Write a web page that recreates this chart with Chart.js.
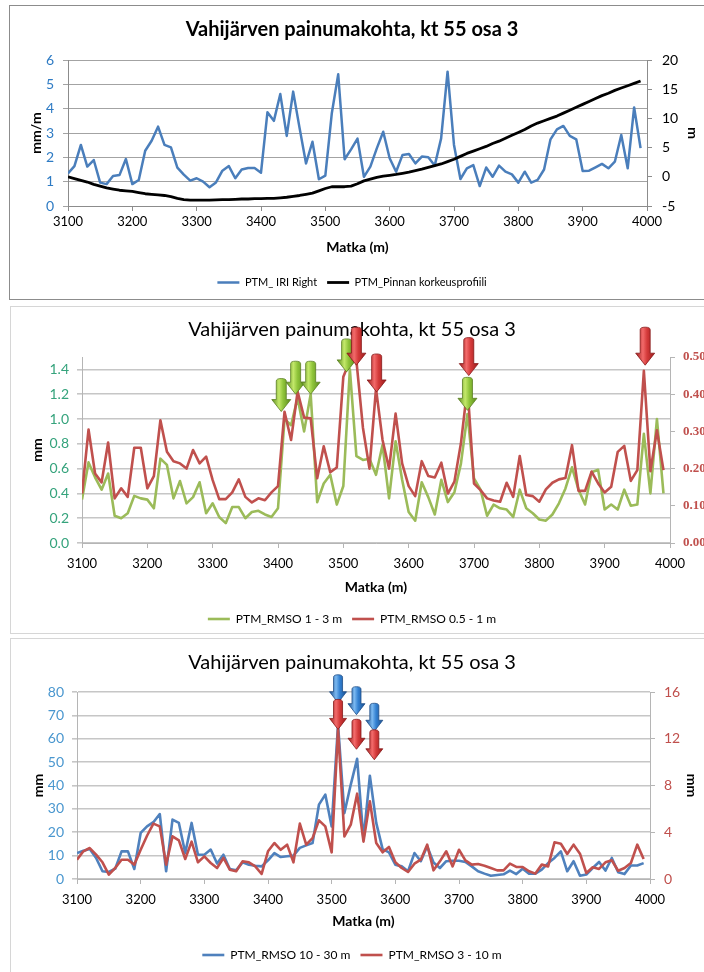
<!DOCTYPE html>
<html>
<head>
<meta charset="utf-8">
<script src="https://cdn.jsdelivr.net/npm/chart.js@4.4.1/dist/chart.umd.min.js"></script>
<style>
  html, body { margin: 0; padding: 0; background: #fff; width: 704px; height: 972px; overflow: hidden; }
  .frame { position: absolute; box-sizing: border-box; }
  #f1 { left: 9px; top: 5px; width: 740px; height: 295px; border: 1px solid #8c8c8c; }
  #f2 { left: 10px; top: 306px; width: 740px; height: 328px; border: 1px solid #d6d6d6; }
  #f3 { left: 10px; top: 638px; width: 740px; height: 345px; border: 1px solid #d6d6d6; }
  canvas { position: absolute; left: 0; }
  #c1 { top: 0; }
  #c2 { top: 306px; filter: blur(0.5px); }
  #c3 { top: 638px; filter: blur(0.5px); }
</style>
</head>
<body>
<div class="frame" id="f1"></div>
<div class="frame" id="f2"></div>
<div class="frame" id="f3"></div>
<canvas id="c1" width="704" height="298"></canvas>
<canvas id="c2" width="704" height="329"></canvas>
<canvas id="c3" width="704" height="333"></canvas>
<script>
// Measuring stations along the road (m)
const stations = [
  3100, 3110, 3120, 3130, 3140, 3150, 3160, 3170, 3180, 3190,
  3200, 3210, 3220, 3230, 3240, 3250, 3260, 3270, 3280, 3290,
  3300, 3310, 3320, 3330, 3340, 3350, 3360, 3370, 3380, 3390,
  3400, 3410, 3420, 3430, 3440, 3450, 3460, 3470, 3480, 3490,
  3500, 3510, 3520, 3530, 3540, 3550, 3560, 3570, 3580, 3590,
  3600, 3610, 3620, 3630, 3640, 3650, 3660, 3670, 3680, 3690,
  3700, 3710, 3720, 3730, 3740, 3750, 3760, 3770, 3780, 3790,
  3800, 3810, 3820, 3830, 3840, 3850, 3860, 3870, 3880, 3890,
  3900, 3910, 3920, 3930, 3940, 3950, 3960, 3970, 3980, 3990
];

// IRI, right wheel path (mm/m)
const iriRight = [
  1.34, 1.64, 2.51, 1.62, 1.89, 0.96, 0.90, 1.23, 1.27, 1.93,
  0.90, 1.07, 2.27, 2.68, 3.26, 2.51, 2.41, 1.58, 1.29, 1.04,
  1.14, 1.00, 0.77, 0.97, 1.45, 1.64, 1.14, 1.50, 1.56, 1.56,
  1.37, 3.85, 3.50, 4.60, 2.88, 4.70, 3.20, 1.75, 2.64, 1.10,
  1.25, 3.80, 5.41, 1.92, 2.33, 2.77, 1.20, 1.62, 2.37, 3.05,
  1.96, 1.41, 2.10, 2.14, 1.75, 2.03, 2.00, 1.66, 2.78, 5.52,
  2.51, 1.11, 1.55, 1.68, 0.82, 1.58, 1.20, 1.66, 1.41, 1.30,
  0.96, 1.41, 0.96, 1.07, 1.50, 2.74, 3.15, 3.29, 2.88, 2.74,
  1.44, 1.45, 1.59, 1.73, 1.55, 1.82, 2.92, 1.55, 4.05, 2.38
];

// Surface elevation profile (m)
const elevation = [
  0.0, -0.3, -0.6, -0.9, -1.3, -1.6, -1.9, -2.1, -2.3, -2.4,
  -2.5, -2.7, -2.9, -3.0, -3.1, -3.2, -3.4, -3.7, -3.9, -4.0,
  -4.0, -4.0, -4.0, -3.95, -3.9, -3.9, -3.85, -3.8, -3.8, -3.75,
  -3.75, -3.7, -3.7, -3.6, -3.5, -3.35, -3.2, -3.0, -2.8, -2.4,
  -2.0, -1.7, -1.7, -1.7, -1.6, -1.2, -0.7, -0.4, -0.1, 0.1,
  0.25, 0.4, 0.6, 0.8, 1.05, 1.3, 1.6, 1.9, 2.2, 2.6,
  3.0, 3.5, 4.0, 4.4, 4.8, 5.2, 5.7, 6.1, 6.6, 7.1,
  7.6, 8.1, 8.7, 9.2, 9.6, 10.0, 10.4, 10.9, 11.4, 11.9,
  12.4, 12.9, 13.4, 13.9, 14.3, 14.8, 15.2, 15.6, 16.0, 16.4
];

// RMSO, wavelength band 1 - 3 m (mm)
const rmso1to3 = [
  0.35, 0.65, 0.53, 0.43, 0.56, 0.22, 0.20, 0.24, 0.38, 0.36,
  0.35, 0.28, 0.68, 0.63, 0.36, 0.50, 0.32, 0.37, 0.49, 0.24,
  0.32, 0.21, 0.16, 0.29, 0.29, 0.20, 0.25, 0.26, 0.23, 0.21,
  0.28, 1.00, 0.95, 1.17, 0.90, 1.20, 0.33, 0.48, 0.55, 0.31,
  0.46, 1.40, 0.70, 0.67, 0.68, 0.55, 0.79, 0.36, 0.82, 0.51,
  0.25, 0.18, 0.49, 0.37, 0.23, 0.51, 0.33, 0.41, 0.64, 1.04,
  0.52, 0.43, 0.22, 0.31, 0.28, 0.27, 0.21, 0.43, 0.28, 0.24,
  0.19, 0.18, 0.23, 0.32, 0.44, 0.61, 0.43, 0.31, 0.57, 0.59,
  0.27, 0.31, 0.27, 0.43, 0.30, 0.31, 0.88, 0.40, 1.00, 0.40
];

// RMSO, wavelength band 0.5 - 1 m (mm)
const rmso05to1 = [
  0.133, 0.305, 0.187, 0.163, 0.270, 0.120, 0.147, 0.124, 0.256, 0.256,
  0.147, 0.180, 0.330, 0.245, 0.220, 0.214, 0.200, 0.250, 0.214, 0.232,
  0.169, 0.118, 0.118, 0.136, 0.171, 0.124, 0.109, 0.120, 0.115, 0.136,
  0.153, 0.353, 0.277, 0.407, 0.337, 0.335, 0.174, 0.260, 0.190, 0.203,
  0.447, 0.490, 0.490, 0.310, 0.200, 0.415, 0.277, 0.200, 0.348, 0.214,
  0.153, 0.126, 0.220, 0.180, 0.176, 0.216, 0.133, 0.165, 0.268, 0.420,
  0.160, 0.142, 0.120, 0.114, 0.111, 0.162, 0.124, 0.234, 0.129, 0.126,
  0.111, 0.144, 0.162, 0.171, 0.175, 0.263, 0.140, 0.140, 0.192, 0.160,
  0.136, 0.151, 0.245, 0.261, 0.167, 0.196, 0.463, 0.193, 0.303, 0.196
];

// RMSO, wavelength band 10 - 30 m (mm)
const rmso10to30 = [
  11.1, 12.1, 12.8, 9.0, 3.3, 3.0, 4.4, 11.8, 11.8, 4.3,
  19.7, 22.5, 24.3, 27.8, 3.3, 25.4, 24.0, 11.1, 24.0, 10.4,
  10.4, 12.6, 6.6, 10.4, 4.3, 3.7, 7.1, 6.1, 5.7, 5.4,
  8.0, 11.1, 9.4, 9.7, 10.0, 13.3, 14.4, 15.4, 31.8, 36.1,
  22.5, 66.0, 28.2, 40.4, 51.4, 17.0, 44.2, 24.0, 12.8, 11.4,
  6.1, 5.4, 3.3, 11.1, 7.6, 14.0, 7.1, 4.7, 7.6, 7.8,
  7.8, 7.3, 5.4, 3.3, 2.3, 1.4, 1.7, 2.0, 3.6, 2.1,
  4.4, 2.3, 2.3, 4.0, 6.8, 9.0, 11.8, 3.3, 7.6, 1.4,
  1.9, 4.7, 7.3, 3.6, 9.0, 2.9, 2.1, 5.8, 5.8, 6.8
];

// RMSO, wavelength band 3 - 10 m (mm)
const rmso3to10 = [
  1.65, 2.37, 2.65, 2.08, 1.43, 0.37, 0.94, 1.65, 1.65, 1.23,
  2.50, 3.70, 4.74, 4.50, 1.23, 3.65, 3.30, 1.71, 3.20, 1.43,
  1.94, 1.37, 0.94, 1.80, 0.80, 0.66, 1.51, 1.43, 1.08, 0.43,
  2.37, 3.08, 2.50, 2.94, 1.43, 4.74, 2.94, 3.50, 5.02, 4.50,
  2.28, 12.80, 3.65, 4.65, 7.30, 3.20, 6.65, 3.08, 2.28, 2.74,
  1.43, 0.94, 0.60, 1.31, 1.65, 2.94, 0.74, 1.51, 2.37, 1.08,
  2.50, 1.60, 1.23, 1.28, 1.14, 0.94, 0.74, 0.74, 1.31, 1.03,
  1.03, 0.66, 0.46, 1.23, 1.08, 3.14, 3.02, 2.14, 2.94, 2.17,
  0.51, 1.00, 0.86, 1.43, 1.60, 0.71, 0.94, 1.37, 2.94, 1.71
];

// Peak markers: station and the value the arrow tip points at
const greenArrowAt = [3405, 3427, 3450, 3505, 3690];
const greenArrowTip = [1.06, 1.20, 1.20, 1.38, 1.07];
const redArrowAt = [3520, 3551, 3692, 3962];
const redArrowTip = [0.478, 0.406, 0.450, 0.478];
const blueArrowAt = [3510, 3539, 3567];
const blueArrowTip = [75.4, 70.3, 63.2];
const redArrowAt3 = [3510, 3539, 3567];
const redArrowTip3 = [12.8, 11.1, 10.2];

const xTicks = ['3100', '3200', '3300', '3400', '3500', '3600', '3700', '3800', '3900', '4000'];
const chartTitle = 'Vahijärven painumakohta, kt 55 osa 3';

Chart.defaults.font.family = 'Lato, "Open Sans", sans-serif';
Chart.defaults.color = '#000';

const pairs = (xs, ys) => xs.map((x, i) => ({ x: x, y: ys[i] }));

// Shaded block arrow pointing down at (x, tipY)
function drawArrow(ctx, x, tipY, len, shaftW, headW, headH, pal) {
  const top = tipY - len, neck = tipY - headH;
  const g = ctx.createLinearGradient(x - headW / 2, 0, x + headW / 2, 0);
  g.addColorStop(0, pal.dark);
  g.addColorStop(0.38, pal.light);
  g.addColorStop(0.6, pal.mid);
  g.addColorStop(1, pal.dark);
  ctx.save();
  ctx.beginPath();
  ctx.moveTo(x - shaftW / 2, top + 2.5);
  ctx.quadraticCurveTo(x - shaftW / 2, top, x, top);
  ctx.quadraticCurveTo(x + shaftW / 2, top, x + shaftW / 2, top + 2.5);
  ctx.lineTo(x + shaftW / 2, neck);
  ctx.lineTo(x + headW / 2, neck);
  ctx.lineTo(x, tipY);
  ctx.lineTo(x - headW / 2, neck);
  ctx.lineTo(x - shaftW / 2, neck);
  ctx.closePath();
  ctx.fillStyle = g;
  ctx.fill();
  ctx.lineWidth = 0.8;
  ctx.strokeStyle = pal.edge;
  ctx.stroke();
  ctx.restore();
}

const peakArrows = {
  id: 'peakArrows',
  afterDatasetsDraw(chart, args, opts) {
    const ctx = chart.ctx;
    (opts.sets || []).forEach(set => {
      const ys = chart.scales[set.axis];
      set.at.forEach((xv, i) => {
        const px = chart.scales.x.getPixelForValue(xv);
        const py = ys.getPixelForValue(set.tip[i]);
        drawArrow(ctx, px, py, set.len, set.shaftW, set.headW, set.headH, set.palette);
      });
    });
  }
};

const GREEN = { light: '#c3e86a', mid: '#8fc43a', dark: '#5a8a1c', edge: '#5b7f22' };
const RED = { light: '#f26a6a', mid: '#d43a3a', dark: '#9a1c1c', edge: '#861818' };
const BLUE = { light: '#7ab8f0', mid: '#3381d2', dark: '#1b4f8f', edge: '#1e4e88' };

function xScale(opts) {
  return {
    type: 'linear', min: 3100, max: 4000,
    afterFit: s => { s.height = opts.height; },
    ticks: {
      stepSize: 100, color: '#000', padding: opts.tickPad,
      font: { size: 13 },
      callback: (v) => xTicks[Math.round((v - 3100) / 100)] ?? ''
    },
    grid: { drawOnChartArea: false, tickLength: 5, color: opts.axisColor, lineWidth: 1 },
    border: { color: opts.axisColor, width: 1 },
    title: {
      display: true, text: 'Matka (m)', color: '#000',
      font: { size: 14, weight: 'bold' },
      padding: { top: 0, bottom: opts.titlePad }
    }
  };
}

function legendOpts(size) {
  return {
    position: 'bottom',
    labels: {
      usePointStyle: true, pointStyle: 'line', pointStyleWidth: 22,
      font: { size: size }, color: '#000', padding: 10,
      sort: (a, b) => a.datasetIndex - b.datasetIndex
    }
  };
}

const common = {
  responsive: false, animation: false, devicePixelRatio: 1,
  layout: { padding: 0 },
  elements: { point: { radius: 0 }, line: { tension: 0, borderJoinStyle: 'round' } },
  plugins: { tooltip: { enabled: false } }
};

// Chart 1: IRI and elevation profile
new Chart(document.getElementById('c1'), {
  type: 'line',
  data: {
    datasets: [
      { label: 'PTM_ IRI Right', data: pairs(stations, iriRight), yAxisID: 'y',
        borderColor: '#4a7ebb', borderWidth: 2.5, order: 2 },
      { label: 'PTM_Pinnan korkeusprofiili', data: pairs(stations, elevation), yAxisID: 'y1',
        borderColor: '#000', borderWidth: 2.8, order: 1 }
    ]
  },
  options: {
    ...common,
    scales: {
      x: xScale({ height: 61, tickPad: 3, titlePad: 11.6, axisColor: '#8c8c8c' }),
      y: {
        position: 'left', min: 0, max: 6,
        afterFit: s => { s.width = 68; },
        ticks: { stepSize: 1, color: '#2e7bc4', padding: 9, font: { size: 14 } },
        grid: { color: '#a3a3a3', lineWidth: 1, tickLength: 5 },
        border: { color: '#8c8c8c' },
        title: { display: true, text: 'mm/m', color: '#000', font: { size: 14, weight: 'bold' }, padding: { top: 27.6, bottom: 0 } }
      },
      y1: {
        position: 'right', min: -5, max: 20,
        afterFit: s => { s.width = 57; },
        ticks: { stepSize: 5, color: '#000', padding: 10, font: { size: 14 } },
        grid: { drawOnChartArea: false, color: '#8c8c8c', tickLength: 5 },
        border: { color: '#8c8c8c' },
        title: { display: true, text: 'm', color: '#000', font: { size: 14, weight: 'bold' }, padding: { top: 2.6, bottom: 0 } }
      }
    },
    plugins: {
      ...common.plugins,
      title: { display: true, text: chartTitle, color: '#000', font: { size: 20, weight: 'bold' }, padding: { top: 18, bottom: 18 } },
      legend: legendOpts(11)
    }
  }
});

// Chart 2: short wavelength RMSO bands
new Chart(document.getElementById('c2'), {
  type: 'line',
  data: {
    datasets: [
      { label: 'PTM_RMSO 1 - 3 m', data: pairs(stations, rmso1to3), yAxisID: 'y',
        borderColor: '#9bbb59', borderWidth: 2.6, order: 2 },
      { label: 'PTM_RMSO 0.5 - 1 m', data: pairs(stations, rmso05to1), yAxisID: 'y1',
        borderColor: '#c0504d', borderWidth: 2.6, order: 1 }
    ]
  },
  plugins: [peakArrows],
  options: {
    ...common,
    scales: {
      x: xScale({ height: 60, tickPad: 8, titlePad: 7.6, axisColor: '#b5b5b5' }),
      y: {
        position: 'left', min: 0, max: 1.5,
        afterFit: s => { s.width = 82; },
        ticks: { stepSize: 0.2, includeBounds: false, color: '#35a37c', padding: 8, font: { size: 14 },
                 callback: v => Number(v).toFixed(1) },
        grid: { color: '#c6c6c6', lineWidth: 1.6, tickLength: 5 },
        border: { color: '#b5b5b5' },
        title: { display: true, text: 'mm', color: '#000', font: { size: 14, weight: 'bold' }, padding: { top: 28.6, bottom: 0 } }
      },
      y1: {
        position: 'right', min: 0, max: 0.5,
        afterFit: s => { s.width = 34; },
        ticks: { stepSize: 0.1, color: '#c0504d', padding: 8,
                 font: { family: '"Liberation Serif", serif', size: 13, weight: 'bold' },
                 callback: v => Number(v).toFixed(2) },
        grid: { drawOnChartArea: false, color: '#b5b5b5', tickLength: 5 },
        border: { color: '#b5b5b5' }
      }
    },
    plugins: {
      ...common.plugins,
      title: { display: true, text: chartTitle, color: '#000', font: { size: 20, weight: 'normal' }, padding: { top: 12, bottom: 15 } },
      legend: legendOpts(12),
      peakArrows: {
        sets: [
          { at: greenArrowAt, tip: greenArrowTip, axis: 'y', len: 33, shaftW: 10, headW: 19, headH: 12, palette: GREEN },
          { at: redArrowAt, tip: redArrowTip, axis: 'y1', len: 38, shaftW: 10, headW: 19, headH: 12, palette: RED }
        ]
      }
    }
  }
});

// Chart 3: long wavelength RMSO bands
new Chart(document.getElementById('c3'), {
  type: 'line',
  data: {
    datasets: [
      { label: 'PTM_RMSO 10 - 30 m', data: pairs(stations, rmso10to30), yAxisID: 'y',
        borderColor: '#4f81bd', borderWidth: 2.6, order: 2 },
      { label: 'PTM_RMSO 3 - 10 m', data: pairs(stations, rmso3to10), yAxisID: 'y1',
        borderColor: '#c0504d', borderWidth: 2.6, order: 1 }
    ]
  },
  plugins: [peakArrows],
  options: {
    ...common,
    scales: {
      x: xScale({ height: 60, tickPad: 8, titlePad: 9.6, axisColor: '#b5b5b5' }),
      y: {
        position: 'left', min: 0, max: 80,
        afterFit: s => { s.width = 77; },
        ticks: { stepSize: 10, color: '#4a97cf', padding: 8, font: { size: 14 } },
        grid: { color: '#c6c6c6', lineWidth: 1.6, tickLength: 5 },
        border: { color: '#b5b5b5' },
        title: { display: true, text: 'mm', color: '#000', font: { size: 14, weight: 'bold' }, padding: { top: 29.6, bottom: 0 } }
      },
      y1: {
        position: 'right', min: 0, max: 16,
        afterFit: s => { s.width = 54; },
        ticks: { stepSize: 4, color: '#c0504d', padding: 9, font: { size: 14 } },
        grid: { drawOnChartArea: false, color: '#b5b5b5', tickLength: 5 },
        border: { color: '#b5b5b5' },
        title: { display: true, text: 'mm', color: '#000', font: { size: 14, weight: 'bold' }, padding: { top: 4, bottom: 0 } }
      }
    },
    plugins: {
      ...common.plugins,
      title: { display: true, text: chartTitle, color: '#000', font: { size: 20, weight: 'normal' }, padding: { top: 13, bottom: 17 } },
      legend: legendOpts(12),
      peakArrows: {
        sets: [
          { at: blueArrowAt, tip: blueArrowTip, axis: 'y', len: 28, shaftW: 9, headW: 17, headH: 11, palette: BLUE },
          { at: redArrowAt3, tip: redArrowTip3, axis: 'y1', len: 30, shaftW: 9, headW: 17, headH: 11, palette: RED }
        ]
      }
    }
  }
});
</script>
</body>
</html>
